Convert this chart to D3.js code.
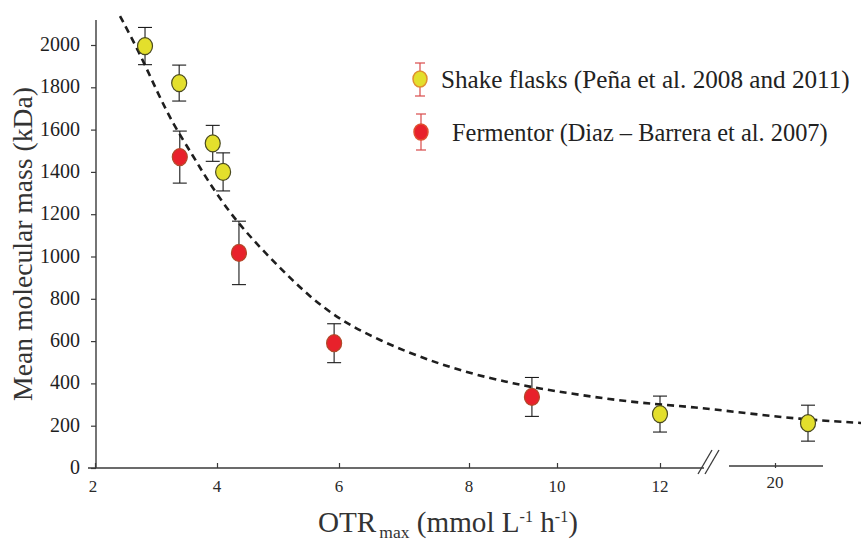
<!DOCTYPE html>
<html>
<head>
<meta charset="utf-8">
<script src="https://cdn.jsdelivr.net/npm/d3@7/dist/d3.min.js"></script>
<style>
  html, body { margin: 0; padding: 0; background: #fff; }
  svg { display: block; }
</style>
</head>
<body>
<svg id="chart" width="861" height="543"></svg>
<script>
// ---------------- data ----------------
const xTicks = [2, 4, 6, 8, 10, 12, 20];
const yTicks = [0, 200, 400, 600, 800, 1000, 1200, 1400, 1600, 1800, 2000];

const shakeX   = [2.82, 3.38, 3.93, 4.10, 12.0, 21.0];
const shakeY   = [1995, 1820, 1535, 1400, 255, 212];
const shakeErr = [88, 85, 85, 90, 85, 85];

const fermX   = [3.39, 4.36, 5.92, 9.43];
const fermY   = [1470, 1017, 590, 336];
const fermErr = [123, 150, 92, 92];

// fitted trend line
const fitX = [2.41, 2.74, 3.02, 3.28, 3.61, 3.84, 4.21, 4.59, 5.03, 5.52, 6.02, 6.52, 7.05, 7.55, 8.09, 8.86, 9.39, 10.45, 11.42, 13.39, 15.55, 19.03, 21.09, 22.61];
const fitY = [2137, 1957, 1778, 1626, 1475, 1362, 1206, 1078, 946, 809, 700, 619, 548, 492, 444, 407, 383, 345, 312, 293, 279, 251, 227, 213];

const legendLabels = ["Shake flasks (Peña et al. 2008 and 2011)", "Fermentor (Diaz – Barrera et al. 2007)"];

// ---------------- layout ----------------
const FONT = '"Liberation Serif"';
const svg = d3.select("#chart");
const axisColor = "#3a3a3a";

// broken x axis: piecewise linear scale
const x = d3.scaleLinear()
  .domain([2, 4, 6, 8, 10, 12, 20, 21])
  .range([95, 217, 339, 469, 557, 660, 775, 808]);
const y = d3.scaleLinear().domain([0, 2000]).range([468, 45]);

// y axis (tick marks via d3.axis, labels via the same scale)
const yAxisG = svg.append("g").attr("transform", "translate(96,0)")
  .call(d3.axisLeft(y).tickValues(yTicks).tickSize(5).tickFormat(""));
yAxisG.select(".domain").remove();
yAxisG.selectAll(".tick line").attr("stroke", axisColor).attr("stroke-width", 1.2);
svg.append("g").selectAll("text").data(yTicks).join("text")
  .attr("x", 80)
  .attr("y", d => y(d) + 6)
  .attr("text-anchor", "end")
  .style("font-family", FONT)
  .style("font-size", "20px")
  .attr("fill", "#1e1e1e")
  .text(d => d3.format("d")(d));
svg.append("line").attr("x1", 96).attr("x2", 96).attr("y1", 20).attr("y2", 468)
  .attr("stroke", axisColor).attr("stroke-width", 1.4);

// x axis
const xAxisG = svg.append("g").attr("transform", "translate(0,468)")
  .call(d3.axisBottom(x).tickValues(xTicks).tickSize(-5).tickFormat(""));
xAxisG.select(".domain").remove();
xAxisG.selectAll(".tick line").attr("stroke", axisColor).attr("stroke-width", 1.2);
svg.append("g").selectAll("text").data(xTicks).join("text")
  .attr("x", d => x(d) - (d === 2 ? 2 : 0))
  .attr("y", d => d === 20 ? 488 : 492)
  .attr("text-anchor", "middle")
  .style("font-family", FONT)
  .style("font-size", "17px")
  .attr("fill", "#2a2a2a")
  .text(d => d3.format("d")(d));
svg.append("line").attr("x1", 88).attr("x2", 704).attr("y1", 468).attr("y2", 468)
  .attr("stroke", axisColor).attr("stroke-width", 1.4);
svg.append("line").attr("x1", 729).attr("x2", 823).attr("y1", 466).attr("y2", 466)
  .attr("stroke", axisColor).attr("stroke-width", 1.4);
// break marks
[[698, 474, 712, 450], [705, 474, 719, 450]].forEach(s => {
  svg.append("line").attr("x1", s[0]).attr("y1", s[1]).attr("x2", s[2]).attr("y2", s[3])
    .attr("stroke", axisColor).attr("stroke-width", 1.3);
});

// axis titles
const yt = svg.append("text")
  .attr("transform", "translate(32,244) rotate(-90)")
  .attr("text-anchor", "middle")
  .style("font-family", FONT)
  .style("font-size", "26px")
  .attr("fill", "#333")
  .text("Mean molecular mass (kDa)");
{
  const len = yt.node().getComputedTextLength();
  if (len > 0) yt.style("font-size", Math.min(30, 26 * 314 / len) + "px");
}

function buildXTitle(s) {
  const xt = svg.append("text").attr("x", 318).attr("y", 532)
    .style("font-family", FONT).style("font-size", s + "px").attr("fill", "#333");
  const sub = s * 0.6, sup = s * 0.55;
  xt.append("tspan").text("OTR");
  xt.append("tspan").style("font-size", sub + "px").attr("dy", 6).attr("dx", 3).text("max");
  xt.append("tspan").attr("dy", -6).text(" (mmol L");
  xt.append("tspan").style("font-size", sup + "px").attr("dy", -10).text("-1");
  xt.append("tspan").attr("dy", 10).text(" h");
  xt.append("tspan").style("font-size", sup + "px").attr("dy", -10).text("-1");
  xt.append("tspan").attr("dy", 10).text(")");
  return xt;
}
{
  let xt = buildXTitle(26);
  const len = xt.node().getComputedTextLength();
  if (len > 0) {
    const s = Math.min(30, 26 * 257 / len);
    xt.remove();
    buildXTitle(s);
  }
}

// fitted dashed curve
const fitData = fitX.map((v, i) => [v, fitY[i]]);
svg.append("path")
  .datum(fitData)
  .attr("fill", "none")
  .attr("stroke", "#1e1e1e")
  .attr("stroke-width", 2.6)
  .attr("stroke-dasharray", "7,5")
  .attr("d", d3.line().x(d => x(d[0])).y(d => y(d[1])).curve(d3.curveBasis));

// error bars and markers
function drawSeries(xs, ys, es, fill, stroke) {
  const g = svg.append("g");
  xs.forEach((xv, i) => {
    const cx = x(xv), top = y(ys[i] + es[i]), bot = y(ys[i] - es[i]);
    g.append("line").attr("x1", cx).attr("x2", cx).attr("y1", top).attr("y2", bot)
      .attr("stroke", "#1a1a1a").attr("stroke-width", 1.1);
    [top, bot].forEach(yy => g.append("line").attr("x1", cx - 7).attr("x2", cx + 7)
      .attr("y1", yy).attr("y2", yy).attr("stroke", "#1a1a1a").attr("stroke-width", 1.1));
    g.append("ellipse").attr("cx", cx).attr("cy", y(ys[i])).attr("rx", 7.5).attr("ry", 8.5)
      .attr("fill", fill).attr("stroke", stroke).attr("stroke-width", 1.2);
  });
}
drawSeries(shakeX, shakeY, shakeErr, "#e3df2c", "#4a4a20");
drawSeries(fermX, fermY, fermErr, "#e8212b", "#b04a2a");

// legend
const legendItems = [
  { cx: 420, cy: 79, top: 63, bot: 96, fill: "#e3df2c", stroke: "#e09030", tx: 441, ty: 88, w: 409 },
  { cx: 421, cy: 132, top: 114, bot: 150, fill: "#e8212b", stroke: "#e05030", tx: 452, ty: 141, w: 376 }
];
legendItems.forEach((it, i) => {
  const g = svg.append("g");
  g.append("line").attr("x1", it.cx).attr("x2", it.cx).attr("y1", it.top).attr("y2", it.bot)
    .attr("stroke", "#d84a4a").attr("stroke-width", 1.2);
  [it.top, it.bot].forEach(yy => g.append("line").attr("x1", it.cx - 5).attr("x2", it.cx + 5)
    .attr("y1", yy).attr("y2", yy).attr("stroke", "#d84a4a").attr("stroke-width", 1.2));
  g.append("ellipse").attr("cx", it.cx).attr("cy", it.cy).attr("rx", 7).attr("ry", 8)
    .attr("fill", it.fill).attr("stroke", it.stroke).attr("stroke-width", 1.5);
  const t = g.append("text").attr("x", it.tx).attr("y", it.ty)
    .style("font-family", FONT).style("font-size", "22px").attr("fill", "#222")
    .text(legendLabels[i]);
  const len = t.node().getComputedTextLength();
  if (len > 0) t.style("font-size", Math.min(26, 22 * it.w / len) + "px");
});
</script>
</body>
</html>
